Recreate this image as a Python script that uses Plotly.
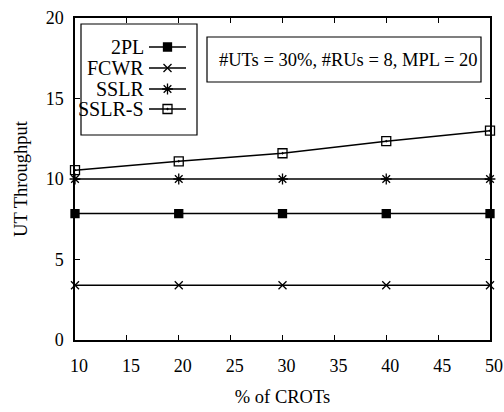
import plotly.graph_objects as go

x_vals = [10, 20, 30, 40, 50]
series_names = ["2PL", "FCWR", "SSLR", "SSLR-S"]
y_2pl = [7.85, 7.85, 7.85, 7.85, 7.85]
y_fcwr = [3.4, 3.4, 3.4, 3.4, 3.4]
y_sslr = [10.0, 10.0, 10.0, 10.0, 10.0]
y_sslrs = [10.55, 11.1, 11.6, 12.35, 13.0]
symbols = ["square", "x-thin-open", "asterisk-open", "square-open-dot"]
sizes = [8, 8, 9, 9]
x_ticks = [10, 15, 20, 25, 30, 35, 40, 45, 50]
y_ticks = [0, 5, 10, 15, 20]

FONT = "Liberation Serif, Times New Roman, serif"
W, H = 504, 412
L, R, T, B = 75, 14, 18, 72

fig = go.Figure()
data = [y_2pl, y_fcwr, y_sslr, y_sslrs]
for name, ys, sym, sz in zip(series_names, data, symbols, sizes):
    fig.add_trace(go.Scatter(
        x=x_vals, y=ys, mode="lines+markers", name=name,
        line=dict(color="black", width=1.5),
        marker=dict(symbol=sym, size=sz, color="black",
                    line=dict(color="black", width=1.3)),
        showlegend=False, cliponaxis=False))

# custom legend (text left, sample right), in pixel coordinates via overlay axes
leg_rows = [47, 68, 89, 109]
for name, sym, sz, yy in zip(series_names, symbols, sizes, leg_rows):
    fig.add_shape(type="line", xref="x2", yref="y2", x0=149, x1=186, y0=yy, y1=yy,
                  line=dict(color="black", width=1.5))
    fig.add_annotation(xref="x2", yref="y2", x=146, y=yy, text=name, showarrow=False,
                       xanchor="right", yanchor="middle",
                       font=dict(family=FONT, size=20, color="black"))
    fig.add_trace(go.Scatter(x=[167.5], y=[yy], xaxis="x2", yaxis="y2", mode="markers",
                             marker=dict(symbol=sym, size=sz, color="black",
                                         line=dict(color="black", width=1.3)),
                             showlegend=False, hoverinfo="skip"))
fig.add_shape(type="rect", xref="x2", yref="y2", x0=81, x1=197, y0=24, y1=135,
              line=dict(color="black", width=1.2))

# parameter box
fig.add_shape(type="rect", xref="x2", yref="y2", x0=207, x1=481, y0=37, y1=82,
              line=dict(color="black", width=1.2))
fig.add_annotation(xref="x2", yref="y2", x=348, y=60,
                   text="#UTs = 30%, #RUs = 8, MPL = 20", showarrow=False,
                   xanchor="center", yanchor="middle",
                   font=dict(family=FONT, size=18.5, color="black"))

axis_common = dict(showline=True, linecolor="black", linewidth=1.5, mirror="ticks",
                   ticks="inside", ticklen=5, tickwidth=1.3, tickcolor="black",
                   showgrid=False, zeroline=False, automargin=False,
                   tickfont=dict(family=FONT, size=18, color="black"))
fig.update_layout(
    width=W, height=H,
    margin=dict(l=L, r=R, t=T, b=B),
    paper_bgcolor="white", plot_bgcolor="white",
    xaxis=dict(range=[10, 50], tickvals=x_ticks, ticktext=[str(v) for v in x_ticks],
               ticklabelstandoff=9, ticklabelshift=4,
               title=dict(text="% of CROTs", font=dict(family=FONT, size=18.5, color="black"),
                          standoff=15), **axis_common),
    yaxis=dict(range=[0, 20], tickvals=y_ticks, ticktext=[str(v) for v in y_ticks],
               ticklabelstandoff=6,
               title=dict(text="UT Throughput", font=dict(family=FONT, size=18.5, color="black"),
                          standoff=13), **axis_common),
    xaxis2=dict(range=[L, W - R], overlaying="x", visible=False, fixedrange=True),
    yaxis2=dict(range=[H - B, T], overlaying="y", visible=False, fixedrange=True),
    showlegend=False,
)

fig.write_html("out.html")
